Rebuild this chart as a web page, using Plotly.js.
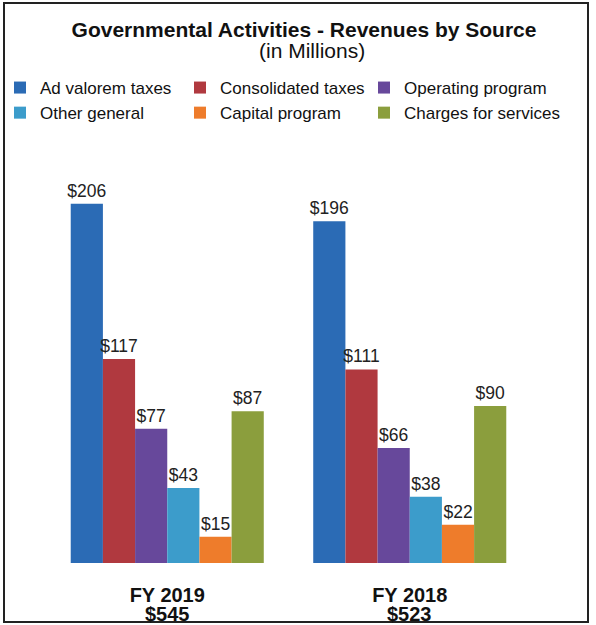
<!DOCTYPE html>
<html>
<head>
<meta charset="utf-8">
<script src="https://cdn.plot.ly/plotly-3.0.1.min.js"></script>
<style>
  html, body { margin: 0; padding: 0; background: #ffffff; }
  #chart { width: 596px; height: 625px; }
</style>
</head>
<body>
<div id="chart"></div>
<script>
// ---- data ----
const years = ["FY 2019", "FY 2018"];
const totals = [545, 523];
const seriesNames = ["Ad valorem taxes", "Consolidated taxes", "Operating program",
                     "Other general", "Capital program", "Charges for services"];
const adValorem = [206, 196];
const consolidated = [117, 111];
const operating = [77, 66];
const otherGeneral = [43, 38];
const capitalProgram = [15, 22];
const chargesServices = [87, 90];
const seriesValues = [adValorem, consolidated, operating, otherGeneral, capitalProgram, chargesServices];
const titleText = "Governmental Activities - Revenues by Source";
const subtitleText = "(in Millions)";

// ---- styles ----
const colors = ["#2b6bb5", "#b0393f", "#67489b", "#3c9ccb", "#ee7c2b", "#8b9e3d"];
const legendOf = ["legend", "legend2", "legend3", "legend", "legend2", "legend3"];
const FONT = "Liberation Sans, Arial, Helvetica, sans-serif";

const W = 596, H = 625;
const M = { l: 0, r: 0, t: 169, b: 62 };
const pw = W - M.l - M.r, ph = H - M.t - M.b;
const px = v => (v - M.l) / pw;
const py = v => (H - M.b - v) / ph;

// category axis layout: first group centred at 167.25 px, groups 242.5 px apart
const firstCenterPx = 167.25, catStepPx = 242.5;
const xr0 = -(firstCenterPx - M.l) / catStepPx;
const xr1 = xr0 + pw / catStepPx;

const traces = seriesNames.map((name, i) => ({
  type: "bar",
  name: name,
  legend: legendOf[i],
  x: years,
  y: seriesValues[i],
  marker: { color: colors[i], line: { width: 0 } },
  text: seriesValues[i].map(v => "$" + v),
  textposition: "outside",
  textfont: { family: FONT, size: 17.5, color: "#222222" },
  cliponaxis: false,
  constraintext: "none",
  hoverinfo: "none"
}));

const annotations = years.map((yr, i) => ({
  x: yr, xref: "x", y: 0, yref: "paper",
  yanchor: "top", yshift: -38,
  text: "<b>$" + totals[i] + "</b>",
  showarrow: false,
  font: { family: FONT, size: 20, color: "#111111" }
}));
annotations.push({
  x: px(312), xref: "paper", y: py(50), yref: "paper",
  xanchor: "center", yanchor: "middle",
  text: subtitleText, showarrow: false,
  font: { family: FONT, size: 21, color: "#111111" }
});

function legendAt(left) {
  return {
    orientation: "v",
    xref: "paper", yref: "paper",
    x: px(left), xanchor: "left",
    y: py(70), yanchor: "top",
    font: { family: FONT, size: 17, color: "#111111" },
    bgcolor: "rgba(0,0,0,0)",
    traceorder: "normal"
  };
}

const layout = {
  width: W, height: H,
  margin: M,
  paper_bgcolor: "#ffffff",
  plot_bgcolor: "#ffffff",
  font: { family: FONT, color: "#111111" },
  title: {
    text: "<b>" + titleText + "</b>",
    font: { family: FONT, size: 21, color: "#111111" },
    x: 304 / W, xanchor: "center", xref: "container",
    y: 1 - 30 / H, yanchor: "middle", yref: "container"
  },
  showlegend: true,
  legend: legendAt(0),
  legend2: legendAt(180),
  legend3: legendAt(364),
  barmode: "group",
  bargap: 0.204,
  bargroupgap: 0,
  xaxis: {
    type: "category",
    range: [xr0, xr1],
    automargin: false,
    showgrid: false, zeroline: false, showline: false,
    ticks: "",
    ticklabelstandoff: 18,
    tickfont: { family: FONT, size: 20, color: "#111111" },
    tickvals: years,
    ticktext: years.map(y => "<b>" + y + "</b>"),
    fixedrange: true
  },
  yaxis: {
    range: [0, 226],
    visible: false,
    automargin: false,
    showgrid: false, zeroline: false,
    fixedrange: true
  },
  annotations: annotations,
  shapes: [{
    type: "rect", xref: "paper", yref: "paper",
    x0: px(4), x1: px(588), y0: py(622), y1: py(3),
    line: { color: "#222222", width: 2 },
    fillcolor: "rgba(0,0,0,0)"
  }]
};

Plotly.newPlot("chart", traces, layout, { displayModeBar: false, staticPlot: true });
</script>
</body>
</html>
